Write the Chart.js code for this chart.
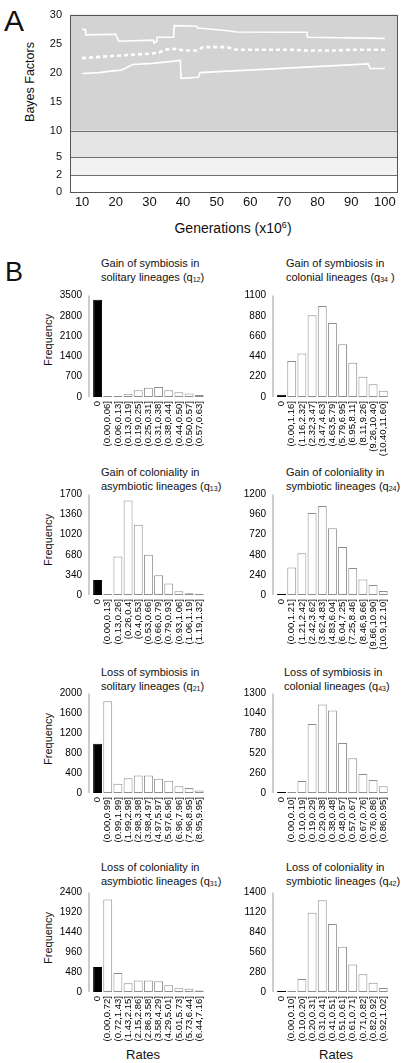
<!DOCTYPE html>
<html lang="en">
<head>
<meta charset="UTF-8">
<title>Bayes factors and rate histograms</title>
<script src="https://cdn.jsdelivr.net/npm/chart.js"></script>
<style>
  body { margin:0; width:402px; height:1063px; position:relative; background:#fff; overflow:hidden;
         font-family:"Liberation Sans", Arial, sans-serif; color:#111; }
  canvas { position:absolute; }
  .t { position:absolute; white-space:nowrap; }
  .ttl { font-size:11px; line-height:14px; }
  .ttl sub { font-size:7px; vertical-align:-1px; line-height:0; }
  .rot { transform:translate(-50%,-50%) rotate(-90deg); }
  .ctr { transform:translate(-50%,-50%); }
</style>
</head>
<body>

<div class="t" style="left:4px;top:6px;font-size:30px;line-height:30px;">A</div>
<div class="t" style="left:5px;top:259px;font-size:27px;line-height:27px;">B</div>
<div class="t rot" style="left:30px;top:82px;font-size:12.5px;">Bayes Factors</div>
<div class="t ctr" style="left:233px;top:228px;font-size:14px;">Generations (x10<sup style="font-size:9px;">6</sup>)</div>

<canvas id="bf" width="402" height="240" style="left:0;top:0;"></canvas>

<div class="t ttl" style="left:101px;top:256px;">Gain of symbiosis in<br>solitary lineages (q<sub>12</sub>)</div>
<div class="t ttl" style="left:286px;top:256px;">Gain of symbiosis in<br>colonial lineages (q<sub>34</sub> )</div>
<div class="t ttl" style="left:101px;top:465px;">Gain of coloniality in<br>asymbiotic lineages (q<sub>13</sub>)</div>
<div class="t ttl" style="left:286px;top:465px;">Gain of coloniality in<br>symbiotic lineages (q<sub>24</sub>)</div>
<div class="t ttl" style="left:101px;top:665px;">Loss of symbiosis in<br>solitary lineages (q<sub>21</sub>)</div>
<div class="t ttl" style="left:284px;top:665px;">Loss of symbiosis in<br>colonial lineages (q<sub>43</sub>)</div>
<div class="t ttl" style="left:101px;top:860px;">Loss of coloniality in<br>asymbiotic lineages (q<sub>31</sub>)</div>
<div class="t ttl" style="left:286px;top:860px;">Loss of coloniality in<br>symbiotic lineages (q<sub>42</sub>)</div>

<div class="t rot" style="left:48px;top:340px;font-size:11px;">Frequency</div>
<div class="t rot" style="left:48px;top:540px;font-size:11px;">Frequency</div>
<div class="t rot" style="left:48px;top:739px;font-size:11px;">Frequency</div>
<div class="t rot" style="left:48px;top:938px;font-size:11px;">Frequency</div>
<div class="t ctr" style="left:143px;top:1054px;font-size:13px;">Rates</div>
<div class="t ctr" style="left:336px;top:1054px;font-size:13px;">Rates</div>

<canvas id="h1"></canvas><canvas id="h2"></canvas>
<canvas id="h3"></canvas><canvas id="h4"></canvas>
<canvas id="h5"></canvas><canvas id="h6"></canvas>
<canvas id="h7"></canvas><canvas id="h8"></canvas>

<script>
// ---- panel A: Bayes factors over generations ----
const genTicks = [10, 20, 30, 40, 50, 60, 70, 80, 90, 100];
const bfTicks = [0, 2, 5, 10, 15, 20, 25, 30];

const upperGen = [10, 11, 11.1, 20, 20.9, 31.2, 31.4, 32.2, 32.3, 37.2, 37.4, 44.1, 44.3, 52, 56, 76.8, 77, 100];
const upperBF  = [27.5, 27.4, 26.5, 26.6, 25.4, 25.6, 25.1, 25.4, 26.1, 26.1, 28.1, 28.0, 27.7, 27.3, 27.0, 26.95, 26.1, 25.9];

const meanGen = [10, 20, 31, 33, 35.5, 37.5, 40.5, 44, 46, 53, 56, 72, 77, 85, 90, 100];
const meanBF  = [22.5, 22.9, 23.3, 23.5, 24.05, 24.1, 23.8, 23.8, 24.4, 24.4, 23.95, 23.95, 23.8, 23.8, 23.95, 23.95];

const lowerGen = [10, 15, 18.5, 21.5, 23, 25, 31, 39.2, 39.4, 44.6, 45, 95.1, 95.6, 100];
const lowerBF  = [19.85, 20.0, 20.25, 20.4, 20.8, 21.4, 21.6, 22.1, 19.0, 19.2, 20.0, 21.5, 20.7, 20.7];

// ---- panel B: histograms of rates ----
const q12Bins = ['0','(0.00,0.06]','(0.06,0.13]','(0.13,0.19]','(0.19,0.25]','(0.25,0.31]','(0.31,0.38]','(0.38,0.44]','(0.44,0.50]','(0.50,0.57]','(0.57,0.63]'];
const q12Freq = [3350, 5, 20, 115, 230, 315, 345, 230, 160, 125, 65];
const q12Ticks = [0, 700, 1400, 2100, 2800, 3500];

const q34Bins = ['0','(0.00,1.16]','(1.16,2.32]','(2.32,3.47]','(3.47,4.63]','(4.63,5.79]','(5.79,6.95]','(6.95,8.11]','(8.11,9.26]','(9.26,10.40]','(10.40,11.60]'];
const q34Freq = [25, 391, 472, 886, 987, 802, 573, 371, 219, 138, 67];
const q34Ticks = [0, 220, 440, 660, 880, 1100];

const q13Bins = ['0','(0.00,0.13]','(0.13,0.26]','(0.26,0.4]','(0.4,0.53]','(0.53,0.66]','(0.66,0.79]','(0.79,0.93]','(0.93,1.06]','(1.06,1.19]','(1.19,1.32]'];
const q13Freq = [255, 15, 650, 1600, 1190, 680, 335, 196, 62, 31, 15];
const q13Ticks = [0, 340, 680, 1020, 1360, 1700];

const q24Bins = ['0','(0.00,1.21]','(1.21,2.42]','(2.42,3.62]','(3.62,4.83]','(4.83,6.04]','(6.04,7.25]','(7.25,8.46]','(8.46,9.66]','(9.66,10.90]','(10.9,12.10]'];
const q24Freq = [10, 328, 498, 978, 1063, 797, 572, 321, 185, 118, 48];
const q24Ticks = [0, 240, 480, 720, 960, 1200];

const q21Bins = ['0','(0.00,0.99]','(0.99,1.99]','(1.99,2.98]','(2.98,3.98]','(3.98,4.97]','(4.97,5.97]','(5.97,6.96]','(6.96,7.96]','(7.96,8.95]','(8.95,9.95]'];
const q21Freq = [990, 1845, 186, 297, 353, 353, 285, 248, 136, 99, 50];
const q21Ticks = [0, 400, 800, 1200, 1600, 2000];

const q43Bins = ['0','(0.00,0.10]','(0.10,0.19]','(0.19,0.29]','(0.29,0.38]','(0.38,0.48]','(0.48,0.57]','(0.57,0.67]','(0.67,0.76]','(0.76,0.86]','(0.86,0.95]'];
const q43Freq = [0, 0, 158, 903, 1156, 1077, 653, 455, 249, 170, 87];
const q43Ticks = [0, 260, 520, 780, 1040, 1300];

const q31Bins = ['0','(0.00,0.72]','(0.72,1.43]','(1.43,2.15]','(2.15,2.86]','(2.86,3.58]','(3.58,4.29]','(4.29,5.01]','(5.01,5.73]','(5.73,6.44]','(6.44,7.16]'];
const q31Freq = [605, 2229, 458, 214, 280, 280, 258, 162, 89, 81, 37];
const q31Ticks = [0, 480, 960, 1440, 1920, 2400];

const q42Bins = ['0','(0.00,0.10]','(0.10,0.20]','(0.20,0.31]','(0.31,0.41]','(0.41,0.51]','(0.51,0.61]','(0.61,0.71]','(0.71,0.82]','(0.82,0.92]','(0.92,1.02]'];
const q42Freq = [0, 0, 184, 1115, 1291, 957, 635, 386, 249, 129, 56];
const q42Ticks = [0, 280, 560, 840, 1120, 1400];

Chart.defaults.font.family = '"Liberation Sans", Arial, sans-serif';
Chart.defaults.color = '#111';

// y scale of panel A: the lower bands are drawn a bit taller than a plain linear scale
const bandKnots = [[0, 0], [2, 0.095], [5, 0.196], [10, 0.346], [30, 1]];
class BandScale extends Chart.LinearScale {
    getPixelForValue(v) {
        for (let i = 1; i < bandKnots.length; i++) {
            const [v0, f0] = bandKnots[i - 1], [v1, f1] = bandKnots[i];
            if (v <= v1 || i === bandKnots.length - 1) {
                return this.getPixelForDecimal(f0 + (v - v0) / (v1 - v0) * (f1 - f0));
            }
        }
    }
    getValueForPixel(p) {
        const f = this.getDecimalForPixel(p);
        for (let i = 1; i < bandKnots.length; i++) {
            const [v0, f0] = bandKnots[i - 1], [v1, f1] = bandKnots[i];
            if (f <= f1 || i === bandKnots.length - 1) return v0 + (f - f0) / (f1 - f0) * (v1 - v0);
        }
    }
}
BandScale.id = 'bands';
BandScale.defaults = Chart.LinearScale.defaults;
Chart.register(BandScale);

const bandPlugin = {
    id: 'bandsBg',
    beforeDatasetsDraw(chart) {
        const {ctx, chartArea: a, scales: {y}} = chart;
        ctx.save();
        const fills = [[10, 30, '#d3d3d3'], [5, 10, '#e4e4e4'], [2, 5, '#f2f2f2']];
        fills.forEach(([lo, hi, c]) => {
            ctx.fillStyle = c;
            ctx.fillRect(a.left, y.getPixelForValue(hi), a.right - a.left, y.getPixelForValue(lo) - y.getPixelForValue(hi));
        });
        ctx.strokeStyle = '#6e6e6e';
        ctx.lineWidth = 1;
        [10, 5, 2].forEach(v => {
            const py = Math.round(y.getPixelForValue(v)) + 0.5;
            ctx.beginPath(); ctx.moveTo(a.left, py); ctx.lineTo(a.right, py); ctx.stroke();
        });
        ctx.strokeStyle = '#555';
        ctx.strokeRect(Math.round(a.left) + 0.5, Math.round(a.top) + 0.5, Math.round(a.right - a.left), Math.round(a.bottom - a.top));
        ctx.restore();
    }
};

const pts = (xs, ys) => xs.map((x, i) => ({x: x, y: ys[i]}));
const plain = v => String(v);

new Chart(document.getElementById('bf'), {
    type: 'line',
    data: {
        datasets: [
            { data: pts(upperGen, upperBF), borderColor: '#fff', borderWidth: 1.6, pointRadius: 0 },
            { data: pts(meanGen, meanBF), borderColor: '#fff', borderWidth: 2.6, borderDash: [4, 3], pointRadius: 0 },
            { data: pts(lowerGen, lowerBF), borderColor: '#fff', borderWidth: 1.6, pointRadius: 0 }
        ]
    },
    options: {
        responsive: false, animation: false, events: [],
        plugins: { legend: { display: false }, tooltip: { enabled: false } },
        layout: { padding: { top: 13, right: 5, left: 0, bottom: 0 } },
        scales: {
            x: {
                type: 'linear', min: 6.4, max: 103.6,
                grid: { display: false, drawTicks: false }, border: { display: false },
                ticks: { padding: 3, autoSkip: false, font: { size: 13 }, color: '#111', callback: plain },
                afterBuildTicks: s => { s.ticks = genTicks.map(v => ({value: v})); },
                afterFit: s => { s.height = 48; }
            },
            y: {
                type: 'bands', min: 0, max: 30,
                grid: { display: false, drawTicks: false }, border: { display: false },
                ticks: { padding: 8, autoSkip: false, font: { size: 11 }, color: '#111', callback: plain },
                afterBuildTicks: s => { s.ticks = bfTicks.map(v => ({value: v})); },
                afterFit: s => { s.width = 70; }
            }
        }
    },
    plugins: [bandPlugin]
});

// ---- histogram helper ----
const axisLine = {
    id: 'axisLine',
    afterDraw(chart) {
        const {ctx, chartArea: a, scales: {y}} = chart;
        ctx.save();
        ctx.strokeStyle = '#bdbdbd';
        ctx.lineWidth = 1.5;
        ctx.beginPath();
        ctx.moveTo(a.left - 3.5, y.getPixelForValue(y.max));
        ctx.lineTo(a.left - 3.5, y.getPixelForValue(0));
        ctx.stroke();
        ctx.restore();
    }
};

const cols = [ { x: 56, left: 92.5, right: 207.5 }, { x: 236, left: 276.5, right: 391 } ];
const rows = [ [287, 397], [486, 595], [685, 793], [884, 992] ];

function histogram(id, col, row, bins, freq, ticks) {
    const c = cols[col], [top, bottom] = rows[row];
    const cx = c.x, cy = top - 8, w = c.right + 8 - cx, h = bottom + 62 - cy;
    const cv = document.getElementById(id);
    cv.width = w; cv.height = h;
    cv.style.left = cx + 'px'; cv.style.top = cy + 'px';
    new Chart(cv, {
        type: 'bar',
        data: {
            labels: bins,
            datasets: [{
                data: freq,
                backgroundColor: bins.map((b, i) => i === 0 ? '#000' : '#fff'),
                borderColor: bins.map((b, i) => i === 0 ? '#000' : '#8e8e8e'),
                borderWidth: 1,
                borderSkipped: false,
                minBarLength: 1,
                barPercentage: 0.88,
                categoryPercentage: 1
            }]
        },
        options: {
            responsive: false, animation: false, events: [],
            plugins: { legend: { display: false }, tooltip: { enabled: false } },
            layout: { padding: { top: top - cy, right: cx + w - c.right, left: 0, bottom: 0 } },
            scales: {
                x: {
                    grid: { display: false, drawTicks: false }, border: { display: false },
                    ticks: { autoSkip: false, minRotation: 90, maxRotation: 90, padding: 4,
                             font: { size: 9.5 }, color: '#000' },
                    afterFit: s => { s.height = cy + h - bottom; }
                },
                y: {
                    min: 0, max: ticks[ticks.length - 1],
                    grid: { display: false, drawTicks: false }, border: { display: false },
                    ticks: { padding: 10.5, autoSkip: false, font: { size: 10 }, color: '#000', callback: plain },
                    afterBuildTicks: s => { s.ticks = ticks.map(v => ({value: v})); },
                    afterFit: s => { s.width = c.left - cx; }
                }
            }
        },
        plugins: [axisLine]
    });
}

histogram('h1', 0, 0, q12Bins, q12Freq, q12Ticks);
histogram('h2', 1, 0, q34Bins, q34Freq, q34Ticks);
histogram('h3', 0, 1, q13Bins, q13Freq, q13Ticks);
histogram('h4', 1, 1, q24Bins, q24Freq, q24Ticks);
histogram('h5', 0, 2, q21Bins, q21Freq, q21Ticks);
histogram('h6', 1, 2, q43Bins, q43Freq, q43Ticks);
histogram('h7', 0, 3, q31Bins, q31Freq, q31Ticks);
histogram('h8', 1, 3, q42Bins, q42Freq, q42Ticks);
</script>
</body>
</html>
